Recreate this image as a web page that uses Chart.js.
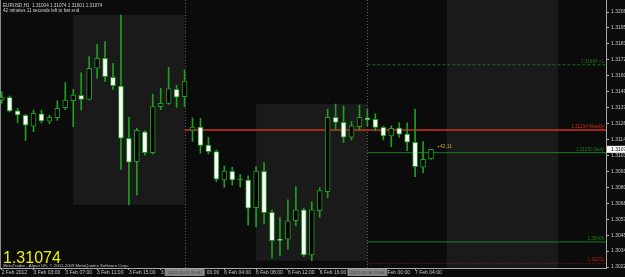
<!DOCTYPE html>
<html>
<head>
<meta charset="utf-8">
<script src="https://cdn.jsdelivr.net/npm/chart.js@4.4.1/dist/chart.umd.min.js"></script>
<style>
  html, body { margin: 0; padding: 0; background: #0b0b0b; overflow: hidden; }
  canvas { display: block; }
</style>
</head>
<body>
<canvas id="myChart" width="625" height="277"></canvas>
<script>
// EURUSD H1 bars, index 0 = 2 Feb 2012 23:00
const opens = [1.31430, 1.31450, 1.31351, 1.31320, 1.31241, 1.31331, 1.31277, 1.31302, 1.31375, 1.31425,
    1.31464, 1.31435, 1.31659, 1.31731, 1.31594, 1.31531, 1.31154, 1.30985, 1.31201, 1.31050,
    1.31382, 1.31406, 1.31507, 1.31454, 1.31212, 1.31235, 1.31104, 1.31057, 1.30853, 1.30916,
    1.30857, 1.30853, 1.30653, 1.30916, 1.30620, 1.30424, 1.30425, 1.30559, 1.30637, 1.30312,
    1.30632, 1.30768, 1.31305, 1.31269, 1.31161, 1.31238, 1.31302, 1.31291, 1.31233, 1.31171,
    1.31228, 1.31185, 1.31125, 1.30945, 1.31004];
const highs = [1.31490, 1.31459, 1.31370, 1.31327, 1.31358, 1.31358, 1.31320, 1.31425, 1.31555, 1.31507,
    1.31627, 1.31743, 1.31832, 1.31851, 1.31695, 1.32043, 1.31305, 1.31226, 1.31209, 1.31473,
    1.31514, 1.31666, 1.31536, 1.31647, 1.31301, 1.31298, 1.31161, 1.31069, 1.30954, 1.30944,
    1.30893, 1.30882, 1.30949, 1.30978, 1.30637, 1.30581, 1.30709, 1.30805, 1.30649, 1.30697,
    1.30797, 1.31365, 1.31401, 1.31387, 1.31275, 1.31394, 1.31362, 1.31331, 1.31240, 1.31244,
    1.31266, 1.31266, 1.31363, 1.31130, 1.31074];
const lows = [1.31406, 1.31344, 1.31266, 1.31137, 1.31201, 1.31264, 1.31259, 1.31284, 1.31360, 1.31238,
    1.31358, 1.31430, 1.31587, 1.31562, 1.31507, 1.30930, 1.30673, 1.30745, 1.31031, 1.31040,
    1.31360, 1.31399, 1.31377, 1.31382, 1.31131, 1.31046, 1.31041, 1.30841, 1.30800, 1.30817,
    1.30802, 1.30526, 1.30514, 1.30540, 1.30288, 1.30307, 1.30353, 1.30523, 1.30300, 1.30271,
    1.30584, 1.30725, 1.31214, 1.31122, 1.31142, 1.31214, 1.31244, 1.31207, 1.31142, 1.31093,
    1.31161, 1.31064, 1.30877, 1.30906, 1.31001];
const closes = [1.31450, 1.31351, 1.31322, 1.31248, 1.31334, 1.31279, 1.31305, 1.31370, 1.31430, 1.31466,
    1.31435, 1.31659, 1.31731, 1.31598, 1.31533, 1.31154, 1.30981, 1.31212, 1.31050, 1.31382,
    1.31406, 1.31512, 1.31450, 1.31567, 1.31235, 1.31102, 1.31057, 1.30858, 1.30918, 1.30853,
    1.30853, 1.30649, 1.30918, 1.30617, 1.30415, 1.30417, 1.30559, 1.30637, 1.30312, 1.30637,
    1.30776, 1.31305, 1.31269, 1.31161, 1.31244, 1.31305, 1.31287, 1.31233, 1.31171, 1.31226,
    1.31183, 1.31125, 1.30949, 1.31002, 1.31074];

// time axis
const timeTickIdx = [0, 4, 8, 12, 16, 20, 24, 28, 32, 36, 40, 44, 48, 52];
const timeTickLabels = ['2 Feb 2012', '3 Feb 03:00', '3 Feb 07:00', '3 Feb 11:00', '3 Feb 15:00', '3 Feb 19:00',
    '6 Feb 00:00', '6 Feb 04:00', '6 Feb 08:00', '6 Feb 12:00', '6 Feb 16:00', '6 Feb 20:00',
    '7 Feb 00:00', '7 Feb 04:00'];

// price axis
const priceTicks = [1.32065, 1.31950, 1.31835, 1.31720, 1.31605, 1.31490, 1.31375, 1.31260, 1.31145,
    1.31030, 1.30915, 1.30800, 1.30685, 1.30570, 1.30455, 1.30340, 1.30225];

// pivot levels
const levelNames = ['1.31214 Weekly', '1.31684 +1', '1.31050 Daily', '1.30406', '1.30252'];
const levelPrices = [1.31214, 1.31684, 1.31050, 1.30406, 1.30252];
const levelFrom = [23, 46, 46, 46, 46];

// session boxes (bar index range, high, low)
const sessionFrom = [9, 32, 56];
const sessionTo = [23, 46, 70];
const sessionHigh = [1.32043, 1.31401, 1.32200];
const sessionLow = [1.30673, 1.30271, 1.30200];

// vertical lines
const vlineIdx = [23, 46];
const vlineLabels = ['2012.02.03 22:00', '2012.02.06 22:00'];

const pipsText = '+42.11';

// ------------------------------------------------------------------
const X_MIN = -0.214, X_MAX = 76.01;
const Y_MIN = 1.302178, Y_MAX = 1.321516;
const green = '#1f9e1f';
const tickFont = { family: 'Liberation Sans', size: 5 };

const levelColors = ['#d0321c', '#1f6f1f', '#1d7d1d', '#1d7d1d', '#b01c1c'];
const levelDash = [[], [3, 2], [], [], [1, 2]];
const levelWidth = [1.5, 1, 1, 1, 1];

const bodyData = opens.map((o, i) => ({ x: i, y: [o, closes[i]] }));
const wickData = lows.map((l, i) => ({ x: i, y: [l, highs[i]] }));

const levelSets = levelPrices.map((p, i) => ({
    type: 'line',
    data: [{ x: levelFrom[i], y: p }, { x: X_MAX, y: p }],
    borderColor: levelColors[i],
    borderWidth: levelWidth[i],
    borderDash: levelDash[i],
    pointRadius: 0,
    order: 3
}));

const overlay = {
    id: 'overlay',
    beforeDraw(chart) {
        const ctx = chart.ctx;
        ctx.save();
        ctx.fillStyle = '#0b0b0b';
        ctx.fillRect(0, 0, chart.width, chart.height);
        ctx.restore();
    },
    beforeDatasetsDraw(chart) {
        const { ctx, chartArea: a, scales: { x, y } } = chart;
        ctx.save();
        ctx.beginPath();
        ctx.rect(a.left, a.top, a.right - a.left, a.bottom - a.top);
        ctx.clip();
        // session boxes
        ctx.fillStyle = '#1a1a1a';
        for (let i = 0; i < sessionFrom.length; i++) {
            const x1 = x.getPixelForValue(sessionFrom[i]);
            const x2 = x.getPixelForValue(sessionTo[i]);
            const y1 = y.getPixelForValue(sessionHigh[i]);
            const y2 = y.getPixelForValue(sessionLow[i]);
            ctx.fillRect(x1, y1, x2 - x1, y2 - y1);
        }
        // vertical lines
        ctx.strokeStyle = '#5e5e5e';
        ctx.lineWidth = 1;
        ctx.setLineDash([1, 2]);
        vlineIdx.forEach(v => {
            const px = Math.round(x.getPixelForValue(v)) + 0.5;
            ctx.beginPath();
            ctx.moveTo(px, a.top);
            ctx.lineTo(px, a.bottom);
            ctx.stroke();
        });
        // left border
        ctx.setLineDash([]);
        ctx.strokeStyle = '#8a8a8a';
        ctx.beginPath();
        ctx.moveTo(0.5, a.top);
        ctx.lineTo(0.5, a.bottom);
        ctx.stroke();
        ctx.restore();
    },
    afterDraw(chart) {
        const { ctx, chartArea: a, scales: { x, y } } = chart;
        ctx.save();

        // header
        ctx.fillStyle = '#d4d4d4';
        ctx.font = '4.6px "Liberation Sans"';
        ctx.textAlign = 'left';
        ctx.textBaseline = 'alphabetic';
        const last = closes.length - 1;
        ctx.fillText('EURUSD,H1  ' + [opens[last], highs[last], lows[last], closes[last]].map(v => v.toFixed(5)).join(' '), 3, 7);
        ctx.fillText('42 minutes 11 seconds left to bar end', 3, 12);

        // level labels
        ctx.textAlign = 'right';
        ctx.font = '4.6px "Liberation Sans"';
        levelPrices.forEach((p, i) => {
            ctx.fillStyle = levelColors[i];
            ctx.fillText(levelNames[i], a.right - 2, y.getPixelForValue(p) - 2);
        });

        // pips label
        ctx.textAlign = 'left';
        ctx.fillStyle = '#b8a82a';
        ctx.font = '5px "Liberation Sans"';
        ctx.fillText(pipsText, x.getPixelForValue(last + 0.75), y.getPixelForValue(closes[last]) - 1);

        // big price
        ctx.fillStyle = '#f0f000';
        ctx.font = '16px "Liberation Sans"';
        ctx.fillText(closes[last].toFixed(5), 3, 263);

        // copyright
        ctx.fillStyle = '#c4c4c4';
        ctx.font = '4.3px "Liberation Sans"';
        ctx.fillText('MetaTrader - Alpari UK, \u00a9 2001-2009 MetaQuotes Software Corp.', 3, 267);

        // vertical line labels on time axis
        ctx.font = '4.4px "Liberation Sans"';
        ctx.textAlign = 'center';
        ctx.textBaseline = 'middle';
        vlineIdx.forEach((v, i) => {
            const px = x.getPixelForValue(v);
            ctx.fillStyle = '#858585';
            ctx.fillRect(px - 20, 269, 40, 7);
            ctx.fillStyle = '#3a3a3a';
            ctx.fillText(vlineLabels[i], px, 272.6);
        });

        // current price on price axis
        const py = y.getPixelForValue(closes[last]);
        ctx.fillStyle = '#ffffff';
        ctx.fillRect(607, py - 3.5, 18, 7);
        ctx.fillStyle = '#000000';
        ctx.textAlign = 'left';
        ctx.font = '5px "Liberation Sans"';
        ctx.fillText(closes[last].toFixed(5), 611, py + 0.3);
        ctx.restore();
    }
};

const config = {
    type: 'bar',
    data: {
        datasets: [{
            label: 'body',
            data: bodyData,
            barThickness: 5,
            borderWidth: 1,
            borderSkipped: false,
            minBarLength: 1,
            borderColor: green,
            backgroundColor: (c) => {
                const i = c.dataIndex;
                if (Math.abs(opens[i] - closes[i]) < 0.00005) return green;
                return closes[i] > opens[i] ? '#000000' : '#ffffff';
            },
            grouped: false,
            order: 0
        }, {
            label: 'wick',
            data: wickData,
            barThickness: 1,
            borderWidth: 0,
            backgroundColor: green,
            grouped: false,
            order: 1
        }, ...levelSets]
    },
    options: {
        responsive: false,
        devicePixelRatio: 1,
        animation: false,
        layout: { padding: 0 },
        plugins: { legend: { display: false }, tooltip: { enabled: false } },
        scales: {
            x: {
                type: 'linear',
                min: X_MIN,
                max: X_MAX,
                offset: false,
                afterBuildTicks: (axis) => { axis.ticks = timeTickIdx.map(v => ({ value: v })); },
                afterFit: (axis) => { axis.height = 9; axis.paddingLeft = 0; axis.paddingRight = 0; },
                grid: { offset: false, drawOnChartArea: false, tickLength: 2, color: '#a8a8a8' },
                border: { color: '#a8a8a8' },
                ticks: {
                    autoSkip: false,
                    maxRotation: 0,
                    align: 'start',
                    padding: 0,
                    color: '#c8c8c8',
                    font: tickFont,
                    callback: (v) => {
                        const k = timeTickIdx.indexOf(v);
                        return k >= 0 ? timeTickLabels[k] : '';
                    }
                }
            },
            y: {
                type: 'linear',
                position: 'right',
                min: Y_MIN,
                max: Y_MAX,
                afterBuildTicks: (axis) => { axis.ticks = priceTicks.map(v => ({ value: v })); },
                afterFit: (axis) => { axis.width = 19; axis.paddingTop = 0; axis.paddingBottom = 0; },
                grid: { drawOnChartArea: false, tickLength: 3, color: '#a8a8a8' },
                border: { color: '#a8a8a8' },
                ticks: {
                    autoSkip: false,
                    padding: 2,
                    color: '#c8c8c8',
                    font: tickFont,
                    callback: (v) => v.toFixed(5)
                }
            }
        }
    },
    plugins: [overlay]
};

const myChart = new Chart(document.getElementById('myChart'), config);
</script>
</body>
</html>
